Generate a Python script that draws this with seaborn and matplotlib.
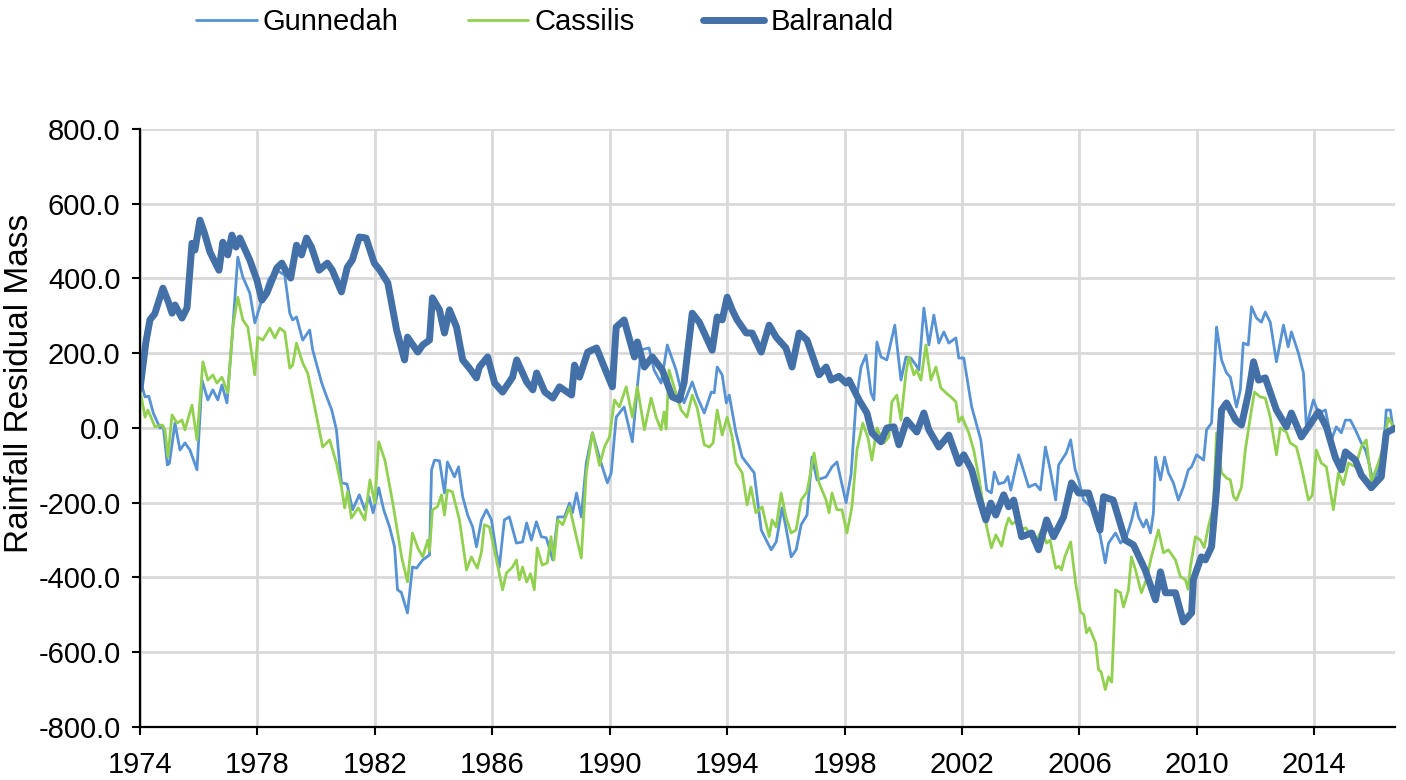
import matplotlib
matplotlib.use("Agg")
import matplotlib.pyplot as plt
import pandas as pd
import seaborn as sns

# values (decimal year, residual mass)
gunnedah_year = [
    1974.0, 1974.17, 1974.3, 1974.45, 1974.68, 1974.79, 1974.93, 1975.0, 1975.19, 1975.36,
    1975.53, 1975.7, 1975.94, 1976.11, 1976.31, 1976.48, 1976.65, 1976.79, 1976.96, 1977.13,
    1977.33, 1977.5, 1977.74, 1977.91, 1978.1, 1978.4, 1978.7, 1978.93, 1979.1, 1979.2,
    1979.33, 1979.54, 1979.78, 1979.88, 1980.19, 1980.36, 1980.53, 1980.69, 1980.86, 1981.05,
    1981.24, 1981.47, 1981.66, 1981.8, 1981.94, 1982.13, 1982.3, 1982.5, 1982.67, 1982.77,
    1982.9, 1983.11, 1983.28, 1983.42, 1983.63, 1983.86, 1983.93, 1984.03, 1984.2, 1984.37,
    1984.47, 1984.71, 1984.85, 1984.99, 1985.16, 1985.33, 1985.46, 1985.63, 1985.8, 1985.97,
    1986.14, 1986.24, 1986.41, 1986.58, 1986.82, 1987.03, 1987.17, 1987.33, 1987.5, 1987.67,
    1987.84, 1988.06, 1988.23, 1988.46, 1988.63, 1988.73, 1988.87, 1989.03, 1989.2, 1989.41,
    1989.65, 1989.92, 1990.05, 1990.22, 1990.49, 1990.77, 1990.94, 1991.07, 1991.34, 1991.51,
    1991.75, 1991.96, 1992.26, 1992.53, 1992.81, 1992.98, 1993.22, 1993.46, 1993.56, 1993.66,
    1993.83, 1993.97, 1994.07, 1994.3, 1994.51, 1994.92, 1995.16, 1995.33, 1995.5, 1995.67,
    1995.87, 1996.0, 1996.18, 1996.35, 1996.52, 1996.72, 1996.89, 1997.06, 1997.37, 1997.57,
    1997.74, 1998.05, 1998.22, 1998.39, 1998.56, 1998.73, 1998.9, 1999.0, 1999.1, 1999.24,
    1999.44, 1999.58, 1999.71, 1999.92, 2000.09, 2000.26, 2000.43, 2000.53, 2000.7, 2000.87,
    2001.04, 2001.21, 2001.38, 2001.55, 2001.79, 2001.89, 2002.06, 2002.33, 2002.64, 2002.84,
    2003.0, 2003.1, 2003.25, 2003.45, 2003.56, 2003.66, 2003.93, 2004.27, 2004.5, 2004.67,
    2004.84, 2005.0, 2005.19, 2005.29, 2005.55, 2005.7, 2005.85, 2005.97, 2006.14, 2006.45,
    2006.65, 2006.88, 2006.99, 2007.23, 2007.4, 2007.6, 2007.78, 2007.91, 2008.01, 2008.18,
    2008.28, 2008.42, 2008.52, 2008.59, 2008.76, 2008.9, 2009.03, 2009.2, 2009.37, 2009.54,
    2009.71, 2009.82, 2009.99, 2010.23, 2010.33, 2010.5, 2010.67, 2010.84, 2011.01, 2011.14,
    2011.35, 2011.48, 2011.58, 2011.75, 2011.86, 2012.03, 2012.2, 2012.33, 2012.5, 2012.71,
    2012.95, 2013.11, 2013.22, 2013.46, 2013.63, 2013.73, 2013.97, 2014.14, 2014.38, 2014.58,
    2014.75, 2014.92, 2015.06, 2015.23, 2015.4, 2015.6, 2015.74, 2015.84, 2016.01, 2016.18,
    2016.35, 2016.45, 2016.59, 2016.69,
]
gunnedah_value = [
    130, 83, 85, 40, 0, 5, -99, -95, 13, -59,
    -40, -59, -112, 128, 75, 102, 75, 115, 67, 235,
    457, 404, 361, 281, 330, 400, 420, 409, 307, 289,
    297, 235, 262, 209, 120, 83, 48, -5, -147, -150,
    -219, -179, -219, -184, -227, -160, -219, -265, -318, -433,
    -440, -495, -372, -375, -353, -340, -112, -86, -88, -174,
    -91, -131, -104, -184, -233, -265, -318, -246, -219, -246,
    -334, -372, -246, -238, -308, -305, -254, -300, -251, -291,
    -294, -353, -238, -238, -201, -227, -174, -238, -94, -13,
    -80, -147, -120, 29, 56, -37, 110, 209, 214, 155,
    120, 222, 155, 67, 123, 83, 40, 96, 94, 163,
    142, 67, 88, -13, -78, -120, -273, -300, -326, -305,
    -214, -265, -345, -326, -259, -233, -78, -139, -131, -104,
    -91, -200, -125, 70, 163, 195, 94, 75, 230, 190,
    182, 230, 275, 128, 190, 187, 168, 155, 321, 222,
    302, 227, 257, 227, 241, 187, 187, 56, -32, -166,
    -174, -118, -150, -145, -130, -166, -72, -158, -150, -166,
    -51, -110, -193, -99, -67, -32, -110, -139, -193, -215,
    -265, -361, -308, -281, -308, -291, -246, -201, -238, -265,
    -246, -281, -227, -78, -139, -78, -120, -147, -193, -158,
    -112, -104, -72, -86, -5, 13, 270, 182, 147, 136,
    56, 102, 227, 222, 324, 294, 283, 310, 283, 177,
    275, 217, 257, 200, 147, 3, 75, 40, 48, -32,
    3, -13, 21, 21, -5, -40, -59, -86, -147, -112,
    -67, 48, 48, -5,
]

cassilis_year = [
    1974.0, 1974.17, 1974.27, 1974.51, 1974.75, 1974.85, 1974.95, 1975.09, 1975.26, 1975.43,
    1975.53, 1975.77, 1975.94, 1976.14, 1976.31, 1976.48, 1976.62, 1976.79, 1976.99, 1977.16,
    1977.33, 1977.5, 1977.67, 1977.91, 1978.01, 1978.18, 1978.42, 1978.59, 1978.76, 1978.93,
    1979.1, 1979.2, 1979.33, 1979.54, 1979.71, 1979.95, 1980.22, 1980.46, 1980.69, 1980.86,
    1980.97, 1981.07, 1981.2, 1981.43, 1981.66, 1981.83, 1982.0, 1982.13, 1982.34, 1982.61,
    1982.91, 1983.11, 1983.28, 1983.46, 1983.63, 1983.8, 1983.86, 1983.96, 1984.13, 1984.27,
    1984.37, 1984.47, 1984.64, 1984.88, 1985.12, 1985.29, 1985.39, 1985.49, 1985.63, 1985.73,
    1985.9, 1986.07, 1986.35, 1986.48, 1986.69, 1986.82, 1986.92, 1987.03, 1987.17, 1987.3,
    1987.43, 1987.53, 1987.7, 1987.87, 1988.0, 1988.1, 1988.23, 1988.4, 1988.63, 1988.73,
    1989.03, 1989.2, 1989.41, 1989.65, 1989.82, 1989.99, 1990.16, 1990.33, 1990.56, 1990.77,
    1990.94, 1991.18, 1991.41, 1991.58, 1991.75, 1991.85, 1991.92, 1992.02, 1992.19, 1992.43,
    1992.63, 1992.81, 1992.98, 1993.22, 1993.39, 1993.52, 1993.66, 1993.83, 1994.0, 1994.17,
    1994.3, 1994.51, 1994.68, 1994.81, 1994.98, 1995.19, 1995.43, 1995.53, 1995.67, 1995.84,
    1996.0, 1996.18, 1996.35, 1996.52, 1996.72, 1996.96, 1997.13, 1997.37, 1997.47, 1997.57,
    1997.74, 1997.91, 1998.08, 1998.25, 1998.42, 1998.62, 1998.8, 1998.93, 1999.1, 1999.34,
    1999.51, 1999.61, 1999.78, 1999.92, 2000.09, 2000.19, 2000.36, 2000.46, 2000.6, 2000.77,
    2000.94, 2001.11, 2001.28, 2001.45, 2001.62, 2001.79, 2001.89, 2002.0, 2002.23, 2002.4,
    2002.57, 2002.84, 2003.0, 2003.15, 2003.35, 2003.49, 2003.59, 2003.7, 2003.83, 2004.0,
    2004.17, 2004.34, 2004.54, 2004.71, 2004.88, 2005.0, 2005.19, 2005.3, 2005.39, 2005.5,
    2005.7, 2005.87, 2006.04, 2006.15, 2006.24, 2006.34, 2006.55, 2006.65, 2006.74, 2006.88,
    2006.99, 2007.1, 2007.23, 2007.4, 2007.5, 2007.67, 2007.77, 2007.91, 2008.11, 2008.28,
    2008.45, 2008.69, 2008.86, 2009.03, 2009.27, 2009.44, 2009.61, 2009.7, 2009.78, 2009.95,
    2010.12, 2010.25, 2010.39, 2010.56, 2010.67, 2010.84, 2011.01, 2011.14, 2011.25, 2011.35,
    2011.52, 2011.65, 2011.82, 2011.96, 2012.16, 2012.33, 2012.5, 2012.71, 2012.84, 2013.05,
    2013.18, 2013.39, 2013.56, 2013.8, 2013.93, 2014.07, 2014.24, 2014.41, 2014.65, 2014.82,
    2014.99, 2015.16, 2015.4, 2015.6, 2015.77, 2015.94, 2016.18, 2016.35, 2016.52, 2016.69,
]
cassilis_value = [
    102, 29, 48, 3, 8, -5, -78, 35, 13, 21,
    -5, 61, -32, 177, 128, 142, 120, 136, 94, 270,
    350, 289, 270, 142, 243, 235, 267, 241, 267, 257,
    160, 168, 227, 174, 147, 56, -51, -32, -94, -158,
    -214, -170, -241, -214, -246, -139, -201, -37, -86, -201,
    -345, -412, -281, -321, -345, -300, -330, -219, -211, -179,
    -233, -166, -171, -246, -380, -345, -361, -375, -332, -259,
    -265, -326, -433, -388, -372, -353, -406, -372, -412, -390,
    -433, -321, -367, -361, -291, -353, -246, -259, -211, -246,
    -348, -120, -13, -100, -51, -24, 75, 56, 110, 29,
    110, -5, 80, 29, -5, 43, -3, 155, 110, 48,
    29, 88, 53, -45, -51, -40, 48, -19, 29, -24,
    -94, -120, -206, -158, -227, -211, -291, -246, -265, -174,
    -238, -281, -273, -193, -171, -67, -147, -193, -227, -174,
    -219, -219, -281, -211, -59, 13, -28, -86, 0, -40,
    -24, 70, 88, 21, 147, 190, 142, 155, 128, 222,
    128, 163, 107, 94, 83, 70, 16, 30, -13, -60,
    -131, -265, -321, -286, -316, -265, -241, -257, -251, -273,
    -267, -286, -300, -273, -308, -300, -375, -370, -380, -345,
    -305, -415, -492, -500, -548, -535, -575, -647, -653, -700,
    -666, -680, -433, -441, -479, -433, -345, -380, -441, -406,
    -345, -273, -334, -326, -353, -398, -406, -432, -372, -291,
    -300, -320, -265, -211, -13, -120, -134, -139, -184, -193,
    -158, -59, 29, 96, 83, 80, 29, -72, 0, -11,
    -40, -51, -104, -193, -180, -59, -94, -104, -219, -120,
    -152, -94, -104, -51, -32, -144, -94, -51, 27, 3,
]

balranald_year = [
    1974.0, 1974.2, 1974.34, 1974.5, 1974.78, 1974.95, 1975.09, 1975.19, 1975.43, 1975.6,
    1975.77, 1975.87, 1976.04, 1976.2, 1976.38, 1976.69, 1976.82, 1976.99, 1977.13, 1977.27,
    1977.4, 1977.74, 1977.98, 1978.15, 1978.32, 1978.66, 1978.83, 1978.99, 1979.13, 1979.33,
    1979.5, 1979.67, 1979.84, 1980.1, 1980.38, 1980.55, 1980.86, 1981.06, 1981.23, 1981.47,
    1981.7, 1981.98, 1982.17, 1982.44, 1982.74, 1983.01, 1983.11, 1983.46, 1983.63, 1983.86,
    1983.96, 1984.2, 1984.37, 1984.54, 1984.78, 1984.99, 1985.22, 1985.46, 1985.56, 1985.84,
    1986.08, 1986.35, 1986.69, 1986.83, 1987.17, 1987.38, 1987.51, 1987.79, 1988.06, 1988.29,
    1988.7, 1988.8, 1988.97, 1989.25, 1989.55, 1989.92, 1990.09, 1990.22, 1990.49, 1990.84,
    1990.94, 1991.18, 1991.45, 1991.79, 1992.13, 1992.37, 1992.53, 1992.81, 1993.05, 1993.49,
    1993.66, 1993.83, 1994.0, 1994.17, 1994.34, 1994.65, 1994.85, 1995.16, 1995.43, 1995.67,
    1996.0, 1996.21, 1996.45, 1996.72, 1997.13, 1997.37, 1997.54, 1997.81, 1998.05, 1998.15,
    1998.49, 1998.76, 1998.93, 1999.24, 1999.44, 1999.68, 1999.85, 2000.12, 2000.46, 2000.7,
    2000.87, 2001.21, 2001.55, 2001.89, 2002.06, 2002.33, 2002.57, 2002.81, 2002.98, 2003.15,
    2003.42, 2003.59, 2003.76, 2004.03, 2004.37, 2004.61, 2004.88, 2005.12, 2005.46, 2005.73,
    2005.97, 2006.31, 2006.7, 2006.82, 2007.15, 2007.56, 2007.84, 2008.24, 2008.59, 2008.76,
    2008.93, 2009.27, 2009.54, 2009.82, 2009.88, 2010.15, 2010.29, 2010.5, 2010.67, 2010.84,
    2011.01, 2011.32, 2011.52, 2011.76, 2011.93, 2012.1, 2012.33, 2012.71, 2013.05, 2013.22,
    2013.56, 2013.8, 2014.14, 2014.41, 2014.72, 2014.92, 2015.06, 2015.4, 2015.6, 2015.94,
    2016.28, 2016.45, 2016.76,
]
balranald_value = [
    105, 230, 290, 305, 374, 340, 307, 329, 294, 321,
    494, 476, 556, 520, 471, 422, 497, 463, 516, 484,
    508, 449, 396, 342, 361, 428, 441, 417, 401, 489,
    463, 508, 484, 422, 441, 422, 364, 430, 449, 511,
    508, 441, 422, 388, 262, 182, 243, 203, 222, 235,
    348, 316, 254, 316, 270, 182, 160, 134, 163, 190,
    120, 96, 136, 182, 123, 102, 147, 96, 80, 110,
    88, 168, 136, 203, 214, 142, 110, 270, 289, 190,
    230, 163, 190, 155, 83, 75, 120, 307, 283, 208,
    297, 289, 350, 316, 289, 254, 254, 203, 275, 243,
    214, 163, 254, 235, 142, 163, 128, 138, 120, 128,
    75, 40, -13, -37, 0, 3, -45, 21, -11, 40,
    -5, -51, -19, -95, -72, -112, -184, -246, -201, -233,
    -179, -211, -193, -291, -281, -326, -246, -291, -238, -147,
    -174, -174, -273, -184, -193, -300, -313, -380, -460, -385,
    -441, -441, -519, -495, -406, -345, -353, -318, -166, 48,
    67, 21, 8, 94, 177, 128, 134, 48, 3, 40,
    -24, 3, 43, 3, -80, -112, -64, -86, -126, -160,
    -131, -13, 0,
]

station_colors = ["#5692D4", "#92D050", "#4470A8"]
station_widths = [2.0, 2.0, 5.0]
year_ticks = list(range(1974, 2015, 4))
value_ticks = list(range(-800, 801, 200))


def build_frame(name, years, values):
    return pd.DataFrame({"year": years, "value": values, "station": name})


sns.set_theme(style="whitegrid")
plt.rcParams['font.family'] = ['Liberation Sans', 'DejaVu Sans']
plt.rcParams['text.color'] = 'black'

fig = plt.figure(figsize=(14.06, 7.8), dpi=100)
ax = fig.add_axes([0.0996, 0.068, 0.8926, 0.7667])

frames = [
    build_frame("Gunnedah", gunnedah_year, gunnedah_value),
    build_frame("Cassilis", cassilis_year, cassilis_value),
    build_frame("Balranald", balranald_year, balranald_value),
]
for frame, color, width in zip(frames, station_colors, station_widths):
    sns.lineplot(data=frame, x="year", y="value", ax=ax, color=color,
                 linewidth=width, estimator=None, sort=True,
                 label=frame["station"].iloc[0], legend=False)

ax.set_xlim(1974, 2016.75)
ax.set_ylim(-800, 800)
ax.set_xticks(year_ticks)
ax.set_xticklabels([str(y) for y in year_ticks])
ax.set_yticks(value_ticks)
ax.set_yticklabels([f"{v:.1f}" for v in value_ticks])

ax.grid(True, color="#D9D9D9", linewidth=2)
ax.set_axisbelow(True)
for side in ["top", "right"]:
    ax.spines[side].set_visible(False)
for side in ["left", "bottom"]:
    ax.spines[side].set_color("black")
    ax.spines[side].set_linewidth(1.6)

ax.tick_params(axis="both", bottom=True, left=True, direction="out",
               length=6, width=1.5, color="black", labelsize=21, labelcolor="black")
ax.tick_params(axis="x", pad=11)
ax.tick_params(axis="y", pad=8)

ax.set_xlabel("")
ax.set_ylabel("Rainfall Residual Mass", fontsize=24, color="black")
ax.yaxis.set_label_coords(-0.0837, 0.575)

handles, labels = ax.get_legend_handles_labels()
leg = fig.legend(handles, labels, loc="center left", bbox_to_anchor=(196 / 1406, 1 - 22 / 780),
                 ncol=3, frameon=False, fontsize=21, handlelength=2.09, handletextpad=0.2,
                 columnspacing=2.36, borderaxespad=0, borderpad=0)
for text in leg.get_texts():
    text.set_color("black")

fig.savefig("out.png", dpi=100)
